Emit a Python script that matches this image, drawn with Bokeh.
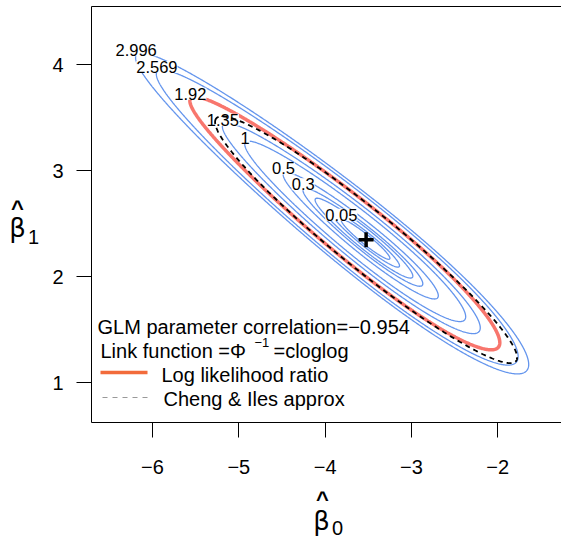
import numpy as np
import contourpy
from bokeh.plotting import figure
from bokeh.models import Label, FixedTicker, Range1d, LinearAxis
from bokeh.core.properties import value
from bokeh.embed import file_html
from bokeh.resources import INLINE

# ---------------- data ----------------
mle = [-3.525, 2.348]            # (beta0_hat, beta1_hat)
se_b0 = 0.893
se_b1 = 0.594
corr = -0.954
skew = -0.14                     # asymmetry of the likelihood along the major axis
contour_levels = [0.05, 0.1, 0.2, 0.3, 0.5, 1, 1.35, 1.92, 2.569, 2.996]
labelled_levels = [0.05, 0.3, 0.5, 1, 1.35, 1.92, 2.569, 2.996]
highlight_level = 1.92
approx_level = 1.92
x_ticks = [-6, -5, -4, -3, -2]
y_ticks = [1, 2, 3, 4]
legend_line1 = "GLM parameter correlation=\u22120.954"
legend_line2a = "Link function =\u03a6"
legend_line2b = "\u22121"
legend_line2c = "=cloglog"
legend_red = "Log likelihood ratio"
legend_dash = "Cheng & Iles approx"

# ---------------- layout ----------------
# plot box (data limits) and where it sits on the 561x538 canvas
X0, X1 = -6.707, -1.261
Y0, Y1 = 0.624, 4.549
FL, FT, FW, FH = 91, 6, 470, 416
W, H = 561, 538
FONT = "Liberation Sans"
BLUE = "#6495ED"
RED = "#F8766D"
RED_LEG = "#F26B3B"

def px2x(px):
    return X0 + (px - FL) / FW * (X1 - X0)

def py2y(py):
    return Y1 - (py - FT) / FH * (Y1 - Y0)

# ---------------- surface ----------------
cov = np.array([[se_b0**2, corr*se_b0*se_b1], [corr*se_b0*se_b1, se_b1**2]])
evals, evecs = np.linalg.eigh(cov)
l2, l1 = evals
v2, v1 = evecs[:, 0], evecs[:, 1]
if v1[0] > 0:
    v1 = -v1
c = np.array(mle)

gx = np.linspace(X0, X1, 600)
gy = np.linspace(Y0, Y1, 600)
GX, GY = np.meshgrid(gx, gy)
DX, DY = GX - c[0], GY - c[1]
U = (DX*v1[0] + DY*v1[1]) / np.sqrt(l1)
V = (DX*v2[0] + DY*v2[1]) / np.sqrt(l2)
G = (np.exp(skew*U) - 1) / skew
Z = 0.5*(G**2 + V**2)
gen = contourpy.contour_generator(gx, gy, Z)

# the frame covers the whole canvas; the plot box and axes sit inside it
p = figure(width=W, height=H, min_border=0, min_border_left=0, min_border_right=0,
           min_border_top=0, min_border_bottom=0,
           x_range=Range1d(px2x(0), px2x(W)), y_range=Range1d(py2y(H), py2y(0)),
           x_axis_type=None, y_axis_type=None,
           output_backend="svg", toolbar_location=None,
           background_fill_color="white", border_fill_color="white")
p.xgrid.visible = False
p.ygrid.visible = False
p.outline_line_color = None

xaxis = LinearAxis(fixed_location=Y0)
yaxis = LinearAxis(fixed_location=X0)
p.add_layout(xaxis, "below")
p.add_layout(yaxis, "left")
for ax, ticks in ((xaxis, x_ticks), (yaxis, y_ticks)):
    ax.ticker = FixedTicker(ticks=ticks)
    ax.major_label_overrides = {t: str(t).replace("-", "\u2212") for t in ticks}
    ax.major_tick_out = 15
    ax.major_tick_in = 0
    ax.minor_tick_out = 0
    ax.minor_tick_in = 0
    ax.axis_line_color = None
    ax.major_tick_line_color = "black"
    ax.major_label_text_font = FONT
    ax.major_label_text_font_size = "20px"
    ax.major_label_text_color = "black"
xaxis.major_label_standoff = 22
yaxis.major_label_standoff = 13
yaxis.major_label_orientation = "horizontal"

# plot box
p.quad(left=[X0], right=[px2x(W + 4)], bottom=[Y0], top=[Y1],
       fill_color=None, line_color="black", line_width=1)

# contour lines
for lev in contour_levels:
    lines = gen.lines(lev)
    xs = [ln[:, 0] for ln in lines]
    ys = [ln[:, 1] for ln in lines]
    if lev == highlight_level:
        p.multi_line(xs, ys, line_color=RED, line_width=3.5)
    else:
        p.multi_line(xs, ys, line_color=BLUE, line_width=1.3)

# contour labels at the upper-left tip of each contour
lx, ly, lt = [], [], []
for lev in labelled_levels:
    g = np.sqrt(2*lev)
    u = np.log(1 + skew*g) / skew
    pt = c + u*np.sqrt(l1)*v1
    lx.append(pt[0]); ly.append(pt[1]); lt.append(f"{lev:g}")
p.text(lx, ly, text=lt, text_align="center", text_baseline="middle",
       text_font=value(FONT), text_font_size="16.5px", text_color="black",
       background_fill_color="white", y_offset=-5)

# Cheng & Iles (Wald) ellipse
t = np.linspace(0, 2*np.pi, 400)
r = np.sqrt(2*approx_level)
ex = c[0] + r*(np.cos(t)*np.sqrt(l1)*v1[0] + np.sin(t)*np.sqrt(l2)*v2[0])
ey = c[1] + r*(np.cos(t)*np.sqrt(l1)*v1[1] + np.sin(t)*np.sqrt(l2)*v2[1])
p.line(ex, ey, line_color="black", line_width=1.8, line_dash="5 4")

# MLE
p.scatter([mle[0]], [mle[1]], marker="cross", size=15, line_width=3.5, color="black")

def lab(px, py, text, size="20px", align="left", baseline="middle", font=FONT, style="normal"):
    p.add_layout(Label(x=px2x(px), y=py2y(py), text=text, text_font=font,
                       text_font_size=size, text_align=align, text_baseline=baseline,
                       text_color="black", text_font_style=style))

# legend
lab(97, 326, legend_line1)
lab(100, 350, legend_line2a)
lab(254, 342, legend_line2b, size="13px")
lab(273, 350, legend_line2c)
lab(161, 374, legend_red)
lab(163, 398, legend_dash)
p.segment(x0=[px2x(100)], y0=[py2y(372)], x1=[px2x(147)], y1=[py2y(372)],
          line_color=RED_LEG, line_width=3.5)
p.segment(x0=[px2x(102)], y0=[py2y(397)], x1=[px2x(147)], y1=[py2y(397)],
          line_color="#999999", line_width=1.2, line_dash="5 5")

# axis titles: hat(beta)[0] and hat(beta)[1]
lab(322, 499, "^", size="22px", align="center", baseline="alphabetic", style="bold")
lab(321, 520, "\u03b2", size="26px", align="center", baseline="alphabetic", font="DejaVu Sans")
lab(337, 527, "0", size="20px", align="center", baseline="alphabetic")
lab(17, 208, "^", size="22px", align="center", baseline="alphabetic", style="bold")
lab(17, 227, "\u03b2", size="26px", align="center", baseline="alphabetic", font="DejaVu Sans")
lab(33, 236, "1", size="20px", align="center", baseline="alphabetic")

open("out.html", "w").write(file_html(p, INLINE))
